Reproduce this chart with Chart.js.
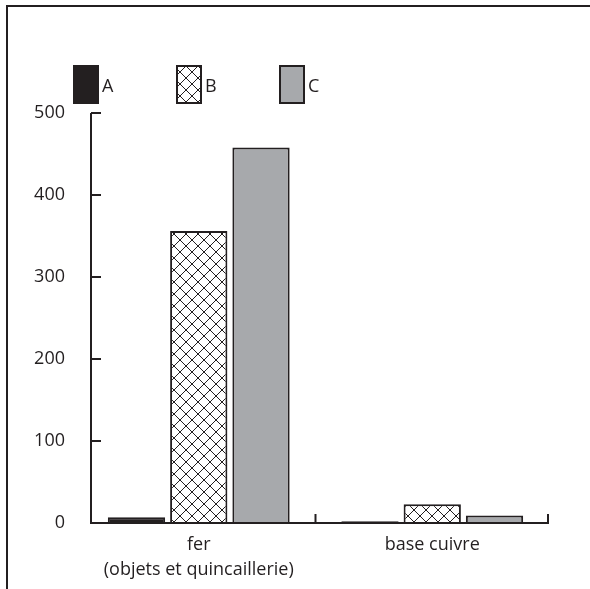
<!DOCTYPE html>
<html>
<head>
    <script src="https://cdn.jsdelivr.net/npm/chart.js"></script>
    <style>
        body { margin: 0; background: white; }
        .wrap { position: relative; width: 590px; height: 589px; }
        .frame {
            position: absolute; left: 6px; top: 5px; right: 0; bottom: 0;
            border-top: 2px solid #231f20; border-left: 2px solid #231f20;
            pointer-events: none;
        }
        canvas { position: absolute; left: 0; top: 0; }
    </style>
</head>
<body>
<div class="wrap">
    <canvas id="chart" width="590" height="589"></canvas>
    <div class="frame"></div>
</div>
<script>
    const categories = ['fer', 'base cuivre'];
    const subLabels = ['(objets et quincaillerie)', ''];
    const seriesNames = ['A', 'B', 'C'];
    const valuesA = [7, 2];
    const valuesB = [356, 23];
    const valuesC = [458, 9];
    const yTicks = [0, 100, 200, 300, 400, 500];

    const ink = '#231f20';
    const font = "'Open Sans', sans-serif";
    const axisInset = 9; // y axis sits a little right of the first category's edge

    // crosshatch fill for series B
    function hatch() {
        const c = document.createElement('canvas');
        c.width = 12; c.height = 12;
        const g = c.getContext('2d');
        g.fillStyle = 'white';
        g.fillRect(0, 0, 12, 12);
        g.strokeStyle = ink;
        g.lineWidth = 1;
        g.beginPath();
        g.moveTo(0, 0); g.lineTo(12, 12);
        g.moveTo(12, 0); g.lineTo(0, 12);
        g.stroke();
        return g.createPattern(c, 'repeat');
    }
    const hatchFill = hatch();

    const extras = {
        id: 'extras',
        afterDatasetsDraw(chart) {
            const { ctx, chartArea, scales: { x, y } } = chart;
            const ax = chartArea.left + axisInset;
            ctx.save();
            ctx.strokeStyle = ink;
            ctx.lineWidth = 2;
            // axes
            ctx.beginPath();
            ctx.moveTo(ax, y.getPixelForValue(500));
            ctx.lineTo(ax, chartArea.bottom);
            ctx.lineTo(chartArea.right, chartArea.bottom);
            ctx.stroke();
            // inward y ticks
            yTicks.forEach(v => {
                const py = Math.round(y.getPixelForValue(v));
                ctx.beginPath();
                ctx.moveTo(ax, py);
                ctx.lineTo(ax + 10, py);
                ctx.stroke();
            });
            // category boundary ticks, pointing up
            const bounds = [];
            for (let i = 1; i < categories.length; i++) {
                bounds.push((x.getPixelForValue(i - 1) + x.getPixelForValue(i)) / 2);
            }
            bounds.push(chartArea.right - 1);
            bounds.forEach(px => {
                ctx.beginPath();
                ctx.moveTo(px, chartArea.bottom);
                ctx.lineTo(px, chartArea.bottom - 9);
                ctx.stroke();
            });
            // second line of the category labels
            ctx.fillStyle = ink;
            ctx.font = '18px ' + font;
            ctx.textAlign = 'center';
            ctx.textBaseline = 'middle';
            subLabels.forEach((t, i) => {
                ctx.fillText(t, x.getPixelForValue(i), chartArea.bottom + 47);
            });
            // legend
            ctx.textAlign = 'left';
            chart.data.datasets.forEach((ds, i) => {
                const bx = ax - 18 + i * 103;
                const by = chartArea.top - 48;
                ctx.fillStyle = ds.backgroundColor;
                ctx.fillRect(bx, by, 26, 39);
                if (i > 0) {
                    ctx.strokeRect(bx + 1, by + 1, 24, 37);
                }
                ctx.fillStyle = ink;
                ctx.fillText(ds.label, bx + 29, by + 22);
            });
            ctx.restore();
        }
    };

    new Chart(document.getElementById('chart'), {
        type: 'bar',
        data: {
            labels: categories,
            datasets: [
                { label: seriesNames[0], data: valuesA, backgroundColor: ink },
                { label: seriesNames[1], data: valuesB, backgroundColor: hatchFill },
                { label: seriesNames[2], data: valuesC, backgroundColor: '#a7a9ac' }
            ]
        },
        options: {
            responsive: false,
            animation: false,
            layout: { padding: { left: 0, right: 41, top: 113, bottom: 0 } },
            datasets: {
                bar: {
                    borderColor: ink,
                    borderWidth: 2,
                    categoryPercentage: 0.8,
                    barPercentage: 0.92
                }
            },
            plugins: {
                legend: { display: false },
                tooltip: { enabled: false }
            },
            scales: {
                x: {
                    afterFit(scale) { scale.height = 66; },
                    grid: { display: false },
                    border: { display: false },
                    ticks: { color: ink, font: { family: font, size: 18 }, padding: 3 }
                },
                y: {
                    min: 0,
                    max: 500,
                    afterFit(scale) { scale.width = 82; },
                    grid: { display: false },
                    border: { display: false },
                    ticks: { stepSize: 100, color: ink, font: { family: font, size: 18 }, padding: 9 }
                }
            }
        },
        plugins: [extras]
    });
</script>
</body>
</html>
